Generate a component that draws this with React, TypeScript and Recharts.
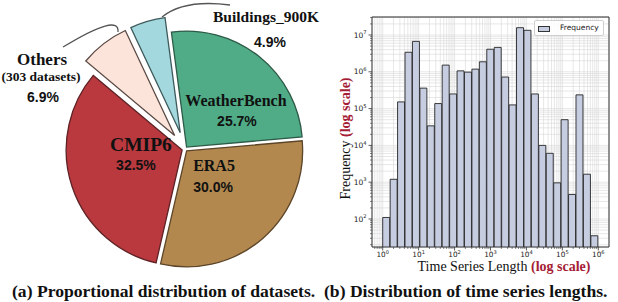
import React from 'react';
import {
  PieChart, Pie, Cell, BarChart, Bar, XAxis, YAxis, CartesianGrid, Legend, ReferenceArea, Label,
} from 'recharts';

// ---------------- data ----------------
const datasetNames = ['WeatherBench', 'Buildings_900K', 'Others', 'CMIP6', 'ERA5'];
const datasetShares = [25.7, 4.9, 6.9, 32.5, 30.0];
const datasetNotes = ['', '', '(303 datasets)', '', ''];

const lengthBinFrequencies = [
  110, 1200, 152000, 3400000, 6700000, 360000, 34000, 137000, 1520000, 250000,
  1060000, 980000, 1180000, 1870000, 4100000, 4600000, 720000, 126000, 15800000, 13400000,
  250000, 10000, 6100, 960, 50000, 464, 236000, 1650, 35,
];
const xMajorTicks = [1, 10, 100, 1000, 10000, 100000, 1000000];
const yMajorTicks = [100, 1000, 10000, 100000, 1000000, 10000000];
const legendLabel = 'Frequency';
const xTitle = 'Time Series Length ';
const yTitle = 'Frequency ';
const scaleNote = '(log scale)';
const captions = ['(a) Proportional distribution of datasets.', '(b) Distribution of time series lengths.'];

// ---------------- styles / layout ----------------
const SERIF = '"Liberation Serif", "Times New Roman", serif';
const SANS = '"Liberation Sans", Arial, sans-serif';
const DEJAVU = '"DejaVu Sans", sans-serif';
const RED = '#a51d36';

const PIE = { cx: 185, cy: 149, r: 116, startAngle: 5 };
const sliceFills = ['#4fac86', '#a2d8de', '#fde4da', '#b9393f', '#b3884f'];
const sliceEdges = ['#2e5a48', '#3f5a5c', '#5a4a45', '#5e2225', '#5c4528'];
const sliceExplode = [2.5, 17, 17, 3, 2.5];
const nameFontSize = [16, 15.5, 17, 19.5, 16];
const labelOffsets: any[] = [
  { name: [49.4, -47], pct: [50.4, -26] },
  { name: [85.8, -115.7], pct: [89.8, -90.7] },
  { name: [-132.6, -76.5], note: [-133.6, -59.5], pct: [-131.6, -38.5] },
  { name: [-41.2, -5], pct: [-46.2, 15] },
  { name: [27.4, 15.1], pct: [26.4, 36.1] },
];
const connectors: any[] = [
  null,
  [[-18.2, -115.7], [3.8, -133.7], [49.8, -127.7]],
  [[-111.6, -88.5], [-55.1, -123], [-56.6, -103.5]],
  null,
  null,
];

// histogram geometry
const BIN_LO_EXP = 0;
const BIN_HI_EXP = 6;
const X_PAD_EXP = 0.298;
const Y_LO_EXP = 1.239;
const Y_HI_EXP = 7.489;
const BAR_W = 288;
const BAR_H = 275;
const barMargin = { top: 17, right: 9, left: 12, bottom: 14 };
const Y_AXIS_W = 30;
const X_AXIS_H = 14;
const plotW = BAR_W - barMargin.left - Y_AXIS_W - barMargin.right;
const padPx = (plotW * X_PAD_EXP) / (BIN_HI_EXP - BIN_LO_EXP + 2 * X_PAD_EXP);
const xDomain = [10 ** (BIN_LO_EXP - X_PAD_EXP), 10 ** (BIN_HI_EXP + X_PAD_EXP)];
const yDomain = [10 ** Y_LO_EXP, 10 ** Y_HI_EXP];
const minorMult = [2, 3, 4, 5, 6, 7, 8, 9];
const withMinors = (majors: number[], domain: number[]) => {
  const all: number[] = [];
  const base = [majors[0] / 10, ...majors];
  base.forEach((m) => {
    all.push(m);
    minorMult.forEach((k) => all.push(m * k));
  });
  return all
    .filter((v) => v >= domain[0] * 0.9999 && v <= domain[1] * 1.0001)
    .sort((a, b) => a - b);
};
const xTicks = withMinors(xMajorTicks, xDomain);
const yTicks = withMinors(yMajorTicks, yDomain);
const BAR_FILL = '#c6cde0';

const binCount = lengthBinFrequencies.length;
const histData = lengthBinFrequencies.map((f, i) => ({
  bin: i,
  binStart: 10 ** (BIN_LO_EXP + (i * (BIN_HI_EXP - BIN_LO_EXP)) / binCount),
  frequency: f,
}));

// ---------------- pie slices ----------------
const totalShare = datasetShares.reduce((a, b) => a + b, 0);
const slices = (() => {
  let acc = PIE.startAngle;
  return datasetShares.map((v, i) => {
    const a0 = acc;
    const a1 = acc + (v / totalShare) * 360;
    acc = a1;
    const mid = ((a0 + a1) / 2) * (Math.PI / 180);
    return {
      a0,
      a1,
      cx: PIE.cx + sliceExplode[i] * Math.cos(mid),
      cy: PIE.cy - sliceExplode[i] * Math.sin(mid),
    };
  });
})();

function renderSliceLabel(p: any, i: number) {
  const { cx, cy } = p;
  const lo = labelOffsets[i];
  const conn = connectors[i];
  const pct = `${datasetShares[i].toFixed(1)}%`;
  return (
    <g key={`lab-${i}`}>
      {conn && (
        <path
          d={`M${cx + conn[0][0]},${cy + conn[0][1]} Q${cx + conn[1][0]},${cy + conn[1][1]} ${cx + conn[2][0]},${cy + conn[2][1]}`}
          fill="none"
          stroke="#555"
          strokeWidth={1.3}
        />
      )}
      <text
        x={cx + lo.name[0]}
        y={cy + lo.name[1]}
        textAnchor="middle"
        dominantBaseline="central"
        fontFamily={SERIF}
        fontWeight="bold"
        fontSize={nameFontSize[i]}
        fill="#111"
      >
        {datasetNames[i]}
      </text>
      {lo.note && (
        <text
          x={cx + lo.note[0]}
          y={cy + lo.note[1]}
          textAnchor="middle"
          dominantBaseline="central"
          fontFamily={SERIF}
          fontWeight="bold"
          fontSize={13.5}
          fill="#111"
        >
          {datasetNotes[i]}
        </text>
      )}
      <text
        x={cx + lo.pct[0]}
        y={cy + lo.pct[1]}
        textAnchor="middle"
        dominantBaseline="central"
        fontFamily={SANS}
        fontWeight="bold"
        fontSize={14}
        fill="#111"
      >
        {pct}
      </text>
    </g>
  );
}

// ---------------- histogram ticks ----------------
const isMajor = (v: number) => Math.abs(Math.log10(v) - Math.round(Math.log10(v))) < 1e-6;

function XTick(props: any) {
  const { x, y, payload } = props;
  const v = payload.value;
  const major = isMajor(v);
  return (
    <g>
      <line x1={x} x2={x} y1={y} y2={y + (major ? 3.5 : 2)} stroke="#333" strokeWidth={major ? 0.8 : 0.6} />
      {major && (
        <text x={x} y={y + 10} textAnchor="middle" fontFamily={DEJAVU} fontSize={7.3} fill="#222">
          10
          <tspan dy={-3.2} fontSize={5.1}>{Math.round(Math.log10(v))}</tspan>
        </text>
      )}
    </g>
  );
}

function YTick(props: any) {
  const { x, y, payload } = props;
  const v = payload.value;
  const major = isMajor(v);
  return (
    <g>
      <line x1={x - (major ? 3.5 : 2)} x2={x} y1={y} y2={y} stroke="#333" strokeWidth={major ? 0.8 : 0.6} />
      {major && (
        <text x={x - 5.5} y={y + 2.6} textAnchor="end" fontFamily={DEJAVU} fontSize={7.5} fill="#222">
          10
          <tspan dy={-3.3} fontSize={5.2}>{Math.round(Math.log10(v))}</tspan>
        </text>
      )}
    </g>
  );
}

function YTitle(props: any) {
  const vb = props.viewBox || {};
  const cx = vb.x + 3;
  const cy = vb.y + vb.height / 2 + 6.5;
  return (
    <text
      x={cx}
      y={cy}
      transform={`rotate(-90, ${cx}, ${cy})`}
      textAnchor="middle"
      dominantBaseline="central"
      fontFamily={SERIF}
      fontSize={14}
      fill="#111"
    >
      {yTitle}
      <tspan fontWeight="bold" fill={RED}>{scaleNote}</tspan>
    </text>
  );
}

function XTitle(props: any) {
  const vb = props.viewBox || {};
  const cx = vb.x + vb.width / 2 + 13.5;
  const by = vb.y + 24;
  return (
    <text x={cx} y={by} textAnchor="middle" fontFamily={SERIF} fontSize={14} fill="#111">
      {xTitle}
      <tspan fontWeight="bold" fill={RED}>{scaleNote}</tspan>
    </text>
  );
}

function LegendBox() {
  return (
    <div
      style={{
        boxSizing: 'border-box',
        width: 70,
        height: 16,
        border: '1px solid #cfcfcf',
        borderRadius: 2,
        background: 'rgba(255,255,255,0.85)',
        position: 'relative',
      }}
    >
      <div
        style={{
          position: 'absolute',
          left: 3,
          top: 5,
          width: 12,
          height: 5.5,
          boxSizing: 'border-box',
          background: BAR_FILL,
          border: '1px solid #333',
        }}
      />
      <div
        style={{
          position: 'absolute',
          left: 25,
          top: 0,
          lineHeight: '14px',
          fontFamily: DEJAVU,
          fontSize: 7.5,
          color: '#222',
          whiteSpace: 'nowrap',
        }}
      >
        {legendLabel}
      </div>
    </div>
  );
}

const captionStyle: React.CSSProperties = {
  position: 'absolute',
  top: 282,
  fontFamily: SERIF,
  fontWeight: 'bold',
  fontSize: 17.6,
  lineHeight: '19px',
  whiteSpace: 'nowrap',
  color: '#111',
};

export default function App() {
  return (
    <div style={{ position: 'absolute', left: 0, top: 0, width: 618, height: 302, background: '#fff', overflow: 'hidden' }}>
      <div style={{ position: 'absolute', left: 0, top: 0 }}>
        <PieChart width={330} height={275} margin={{ top: 0, right: 0, bottom: 0, left: 0 }}>
          {slices.map((s, i) => (
            <Pie
              key={datasetNames[i]}
              data={[{ name: datasetNames[i], value: datasetShares[i] }]}
              dataKey="value"
              nameKey="name"
              cx={s.cx}
              cy={s.cy}
              startAngle={s.a0}
              endAngle={s.a1}
              innerRadius={0}
              outerRadius={PIE.r}
              stroke={sliceEdges[i]}
              strokeWidth={1.3}
              isAnimationActive={false}
              labelLine={false}
              label={(p: any) => renderSliceLabel(p, i)}
            >
              <Cell fill={sliceFills[i]} stroke={sliceEdges[i]} strokeWidth={1.3} />
            </Pie>
          ))}
        </PieChart>
      </div>

      <div style={{ position: 'absolute', left: 330, top: 0 }}>
        <BarChart
          width={BAR_W}
          height={BAR_H}
          data={histData}
          margin={barMargin}
          barCategoryGap={0}
          barGap={0}
        >
          <CartesianGrid xAxisId="log" yAxisId="y" stroke="#d6d6d6" strokeWidth={0.6} />
          <XAxis
            xAxisId="log"
            dataKey="binStart"
            type="number"
            scale="log"
            domain={xDomain}
            allowDataOverflow
            ticks={xTicks}
            interval={0}
            tick={<XTick />}
            tickLine={false}
            axisLine={false}
            tickSize={0}
            tickMargin={0}
            height={X_AXIS_H}
          >
            <Label content={<XTitle />} />
          </XAxis>
          <XAxis
            xAxisId="cat"
            dataKey="bin"
            type="category"
            hide
            height={0}
            padding={{ left: padPx, right: padPx }}
          />
          <YAxis
            yAxisId="y"
            type="number"
            scale="log"
            domain={yDomain}
            allowDataOverflow
            ticks={yTicks}
            interval={0}
            tick={<YTick />}
            tickLine={false}
            axisLine={false}
            tickSize={0}
            tickMargin={0}
            width={Y_AXIS_W}
          >
            <Label content={<YTitle />} />
          </YAxis>
          <Bar
            xAxisId="cat"
            yAxisId="y"
            dataKey="frequency"
            name={legendLabel}
            fill={BAR_FILL}
            stroke="#262626"
            strokeWidth={0.9}
            isAnimationActive={false}
          />
          <ReferenceArea
            xAxisId="log"
            yAxisId="y"
            x1={xDomain[0]}
            x2={xDomain[1]}
            y1={yDomain[0]}
            y2={yDomain[1]}
            ifOverflow="visible"
            fill="none"
            fillOpacity={0}
            stroke="#333"
            strokeWidth={1}
          />
          <Legend
            layout="horizontal"
            verticalAlign="middle"
            align="center"
            wrapperStyle={{ position: 'absolute', left: 204, top: 20, width: 70, height: 16 }}
            content={() => <LegendBox />}
          />
        </BarChart>
      </div>

      <div style={{ ...captionStyle, left: 12 }}>{captions[0]}</div>
      <div style={{ ...captionStyle, left: 324 }}>{captions[1]}</div>
    </div>
  );
}
